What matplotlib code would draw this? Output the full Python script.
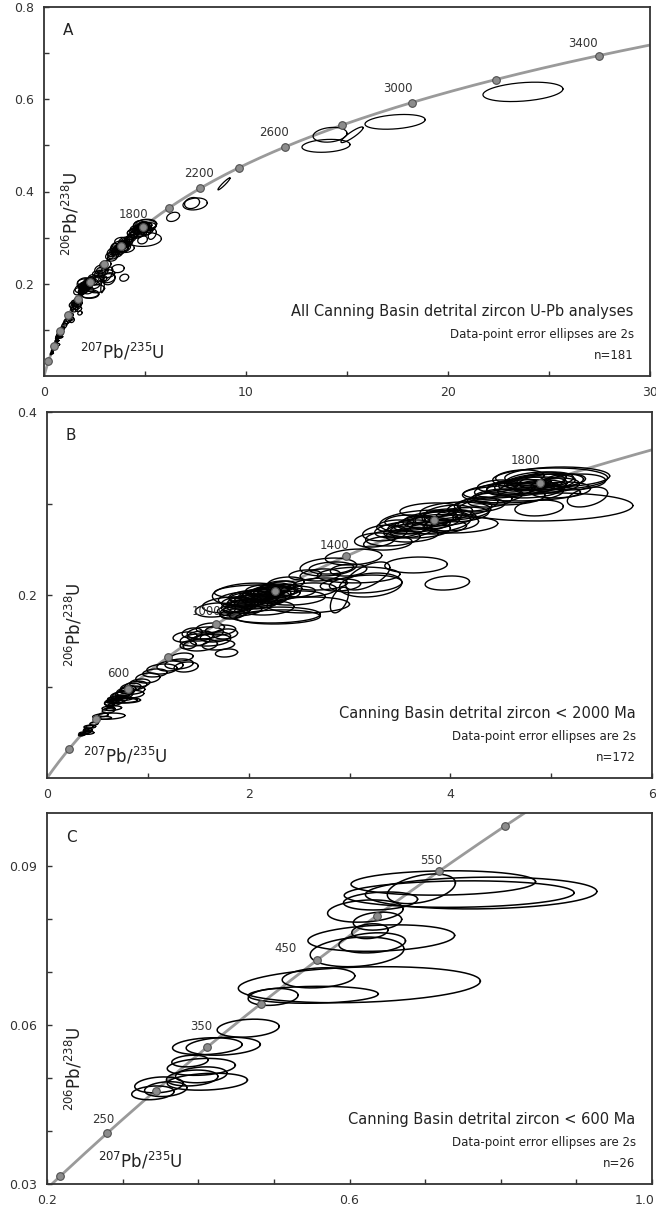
import numpy as np
import matplotlib.pyplot as plt
from matplotlib.transforms import ScaledTranslation

# decay constants (per year)
L238 = 1.55125e-10
L235 = 9.8485e-10

# analyses: 207Pb/235U, 206Pb/238U, 2s error x, 2s error y, rho
grains_lt600 = [
    (0.340, 0.0472, 0.028, 0.0013, 0.2), (0.348, 0.0487, 0.032, 0.0015, 0.2),
    (0.357, 0.0479, 0.028, 0.0014, 0.2), (0.392, 0.0500, 0.034, 0.0015, 0.2),
    (0.412, 0.0493, 0.053, 0.0016, 0.2), (0.404, 0.0521, 0.045, 0.0016, 0.2),
    (0.389, 0.0532, 0.024, 0.0011, 0.2), (0.404, 0.0506, 0.034, 0.0015, 0.2),
    (0.412, 0.0560, 0.046, 0.0016, 0.2), (0.433, 0.0560, 0.049, 0.0017, 0.2),
    (0.466, 0.0594, 0.041, 0.0017, 0.2), (0.613, 0.0676, 0.160, 0.0034, 0.2),
    (0.499, 0.0653, 0.033, 0.0016, 0.2), (0.552, 0.0657, 0.086, 0.0016, 0.1),
    (0.559, 0.0689, 0.048, 0.0019, 0.2), (0.610, 0.0738, 0.062, 0.0028, 0.2),
    (0.642, 0.0764, 0.097, 0.0025, 0.2), (0.630, 0.0755, 0.044, 0.0019, 0.2),
    (0.627, 0.0777, 0.024, 0.0014, 0.2), (0.637, 0.0796, 0.032, 0.0017, 0.2),
    (0.621, 0.0815, 0.050, 0.0021, 0.2), (0.641, 0.0834, 0.049, 0.0017, 0.2),
    (0.724, 0.0868, 0.122, 0.0023, 0.1), (0.695, 0.0857, 0.045, 0.0028, 0.4),
    (0.745, 0.0847, 0.152, 0.0025, 0.1), (0.774, 0.0849, 0.153, 0.0030, 0.1),
]

grains_600_850 = [
    (0.80, 0.0965, 0.08, 0.0042, 0.3), (0.78, 0.0945, 0.09, 0.0045, 0.3),
    (0.83, 0.0990, 0.10, 0.0046, 0.3), (0.76, 0.0920, 0.08, 0.0040, 0.3),
    (0.85, 0.0960, 0.12, 0.0045, 0.2), (0.72, 0.0900, 0.09, 0.0042, 0.3),
    (0.82, 0.0915, 0.14, 0.0044, 0.2), (0.70, 0.0860, 0.10, 0.0045, 0.3),
    (0.88, 0.1010, 0.11, 0.0048, 0.3), (0.75, 0.0905, 0.10, 0.0044, 0.3),
    (0.66, 0.0830, 0.09, 0.0042, 0.3),
    (1.00, 0.1093, 0.12, 0.0055, 0.2), (1.14, 0.1191, 0.15, 0.0055, 0.2),
    (1.22, 0.1224, 0.13, 0.0055, 0.2), (1.31, 0.1246, 0.14, 0.0055, 0.2),
    (1.34, 0.1322, 0.11, 0.0044, 0.2), (1.38, 0.1213, 0.12, 0.0055, 0.2),
    (0.92, 0.1038, 0.10, 0.0044, 0.2), (1.07, 0.1148, 0.12, 0.0044, 0.2),
]

grains_900_1000 = [
    (1.47, 0.1508, 0.15, 0.0066, 0.2), (1.52, 0.1552, 0.13, 0.0055, 0.2),
    (1.57, 0.1585, 0.18, 0.0066, 0.2), (1.62, 0.1508, 0.20, 0.0066, 0.2),
    (1.67, 0.1541, 0.15, 0.0055, 0.2), (1.72, 0.1617, 0.15, 0.0055, 0.2),
    (1.62, 0.1639, 0.14, 0.0055, 0.2), (1.52, 0.1454, 0.17, 0.0066, 0.2),
    (1.70, 0.1454, 0.16, 0.0055, 0.2), (1.77, 0.1574, 0.12, 0.0055, 0.2),
    (1.44, 0.1585, 0.10, 0.0055, 0.2), (1.40, 0.1454, 0.08, 0.0044, 0.2),
    (1.78, 0.1366, 0.11, 0.0044, 0.2), (1.37, 0.1541, 0.12, 0.0055, 0.2),
]

grains_1000_1300 = [
    (2.07, 0.2033, 0.41, 0.0077, 0.1), (2.03, 0.2000, 0.39, 0.0130, 0.1),
    (1.80, 0.1891, 0.26, 0.0087, 0.2), (2.26, 0.1781, 0.45, 0.0087, 0.1),
    (2.29, 0.1760, 0.42, 0.0077, 0.1), (2.59, 0.1891, 0.41, 0.0087, 0.1),
    (2.71, 0.2120, 0.27, 0.0066, 0.2), (2.59, 0.2055, 0.28, 0.0077, 0.2),
    (1.67, 0.1836, 0.20, 0.0077, 0.2), (1.91, 0.1836, 0.22, 0.0066, 0.2),
    (1.86, 0.1814, 0.15, 0.0066, 0.3), (1.91, 0.1880, 0.18, 0.0066, 0.3),
    (1.96, 0.1902, 0.16, 0.0055, 0.3), (1.99, 0.1934, 0.20, 0.0066, 0.3),
    (2.03, 0.1945, 0.18, 0.0066, 0.3), (2.07, 0.1967, 0.15, 0.0055, 0.3),
    (2.11, 0.1989, 0.20, 0.0066, 0.3), (2.14, 0.2011, 0.17, 0.0066, 0.3),
    (2.17, 0.2033, 0.15, 0.0055, 0.3), (2.21, 0.2044, 0.19, 0.0066, 0.3),
    (2.25, 0.2066, 0.16, 0.0066, 0.3), (2.29, 0.2087, 0.18, 0.0066, 0.3),
    (2.33, 0.2098, 0.14, 0.0055, 0.3), (2.01, 0.1880, 0.22, 0.0077, 0.2),
    (2.09, 0.1913, 0.20, 0.0066, 0.2), (2.16, 0.1945, 0.21, 0.0066, 0.2),
    (2.23, 0.1978, 0.18, 0.0066, 0.2), (1.95, 0.1967, 0.14, 0.0055, 0.2),
    (2.13, 0.2055, 0.16, 0.0055, 0.2), (2.37, 0.2131, 0.18, 0.0066, 0.2),
    (1.84, 0.1792, 0.12, 0.0055, 0.2), (1.89, 0.1847, 0.14, 0.0055, 0.2),
    (2.27, 0.2011, 0.24, 0.0077, 0.2), (2.41, 0.2033, 0.25, 0.0066, 0.2),
    (2.46, 0.1967, 0.30, 0.0077, 0.2), (2.19, 0.1858, 0.26, 0.0077, 0.2),
    (2.05, 0.1990, 0.25, 0.0070, 0.3), (2.12, 0.2000, 0.22, 0.0066, 0.3),
    (2.20, 0.2020, 0.26, 0.0070, 0.3), (1.93, 0.1925, 0.20, 0.0066, 0.3),
    (2.31, 0.2050, 0.22, 0.0066, 0.3), (2.00, 0.1960, 0.30, 0.0080, 0.2),
]

grains_1300_1500 = [
    (2.79, 0.2306, 0.28, 0.0098, 0.2), (2.82, 0.2295, 0.22, 0.0066, 0.2),
    (3.04, 0.2415, 0.28, 0.0087, 0.2), (3.09, 0.2219, 0.41, 0.0087, 0.1),
    (3.21, 0.2109, 0.31, 0.0131, 0.2), (3.18, 0.2208, 0.22, 0.0153, 0.6),
    (3.66, 0.2328, 0.31, 0.0087, 0.1), (3.97, 0.2131, 0.22, 0.0077, 0.2),
    (3.16, 0.2120, 0.36, 0.0098, 0.2), (2.90, 0.1945, 0.09, 0.0140, 0.5),
    (2.91, 0.2109, 0.20, 0.0066, 0.2), (2.99, 0.2273, 0.18, 0.0066, 0.2),
    (2.71, 0.2219, 0.20, 0.0066, 0.2), (2.56, 0.2219, 0.16, 0.0055, 0.2),
]

grains_1500_1700 = [
    (3.35, 0.2678, 0.22, 0.0087, 0.2), (3.43, 0.2623, 0.27, 0.0087, 0.2),
    (4.05, 0.2918, 0.35, 0.0098, 0.2), (3.75, 0.2798, 0.45, 0.0130, 0.2),
    (4.10, 0.2765, 0.37, 0.0087, 0.2), (3.50, 0.2710, 0.25, 0.0087, 0.3),
    (3.60, 0.2743, 0.22, 0.0077, 0.3), (3.68, 0.2787, 0.20, 0.0077, 0.3),
    (3.78, 0.2820, 0.25, 0.0087, 0.3), (3.85, 0.2842, 0.22, 0.0077, 0.3),
    (3.92, 0.2863, 0.20, 0.0077, 0.3), (3.98, 0.2896, 0.24, 0.0087, 0.3),
    (3.70, 0.2710, 0.30, 0.0087, 0.2), (3.88, 0.2743, 0.28, 0.0077, 0.2),
    (3.55, 0.2809, 0.20, 0.0066, 0.2), (4.19, 0.2951, 0.22, 0.0077, 0.3),
    (4.27, 0.2995, 0.20, 0.0077, 0.3), (3.80, 0.2929, 0.30, 0.0077, 0.2),
    (3.45, 0.2754, 0.18, 0.0066, 0.2), (3.25, 0.2601, 0.20, 0.0077, 0.2),
    (4.02, 0.2787, 0.26, 0.0087, 0.2), (3.38, 0.2568, 0.24, 0.0077, 0.2),
    (3.62, 0.2656, 0.26, 0.0077, 0.2),
    (3.72, 0.2770, 0.28, 0.0080, 0.3), (3.83, 0.2800, 0.26, 0.0080, 0.3),
    (3.95, 0.2840, 0.30, 0.0085, 0.3), (3.58, 0.2700, 0.24, 0.0077, 0.3),
    (4.12, 0.2880, 0.26, 0.0080, 0.3),
]

grains_1700_2000 = [
    (5.06, 0.3290, 0.52, 0.0109, 0.1), (4.71, 0.3115, 0.58, 0.0087, 0.1),
    (5.36, 0.3071, 0.20, 0.0109, 0.4), (4.95, 0.2962, 0.86, 0.0153, 0.1),
    (4.99, 0.3268, 0.57, 0.0120, 0.1), (4.88, 0.2951, 0.24, 0.0087, 0.2),
    (4.62, 0.3115, 0.50, 0.0109, 0.2), (4.47, 0.3082, 0.25, 0.0077, 0.3),
    (4.54, 0.3148, 0.30, 0.0087, 0.3), (4.64, 0.3180, 0.28, 0.0087, 0.3),
    (4.74, 0.3213, 0.26, 0.0077, 0.3), (4.84, 0.3235, 0.30, 0.0087, 0.3),
    (4.94, 0.3257, 0.28, 0.0087, 0.3), (4.79, 0.3148, 0.32, 0.0087, 0.2),
    (4.89, 0.3180, 0.26, 0.0077, 0.2), (4.69, 0.3290, 0.24, 0.0077, 0.2),
    (5.04, 0.3202, 0.24, 0.0077, 0.2), (5.14, 0.3257, 0.20, 0.0066, 0.2),
    (4.59, 0.3071, 0.35, 0.0087, 0.2), (4.39, 0.3038, 0.22, 0.0077, 0.2),
    (5.09, 0.3148, 0.30, 0.0087, 0.2), (5.24, 0.3235, 0.30, 0.0087, 0.2),
    (4.47, 0.3191, 0.20, 0.0066, 0.2), (4.29, 0.2984, 0.25, 0.0077, 0.2),
    (4.80, 0.3200, 0.36, 0.0090, 0.3), (4.90, 0.3230, 0.34, 0.0090, 0.3),
    (5.00, 0.3240, 0.32, 0.0087, 0.3), (4.70, 0.3170, 0.34, 0.0090, 0.3),
    (4.85, 0.3260, 0.30, 0.0085, 0.3),
]

grains_gt2000 = [
    (6.39, 0.345, 0.32, 0.010, 0.3), (7.48, 0.373, 0.60, 0.013, 0.2),
    (7.33, 0.375, 0.37, 0.012, 0.2), (8.91, 0.4165, 0.30, 0.013, 0.95),
    (13.96, 0.499, 1.19, 0.014, 0.2), (14.16, 0.523, 0.84, 0.016, 0.2),
    (15.25, 0.523, 0.55, 0.017, 0.9), (17.38, 0.551, 1.49, 0.016, 0.3),
    (23.71, 0.616, 1.98, 0.021, 0.3),
]

# concordia age markers (Ma) and labelled ones
ages_A = [200, 400, 600, 800, 1000, 1200, 1400, 1600, 1800, 2000, 2200, 2400,
          2600, 2800, 3000, 3200, 3400]
labels_A = [1800, 2200, 2600, 3000, 3400]
ages_B = [200, 400, 600, 800, 1000, 1200, 1400, 1600, 1800]
labels_B = [600, 1000, 1400, 1800]
ages_C = [200, 250, 300, 350, 400, 450, 500, 550, 600]
labels_C = [250, 350, 450, 550]

lt2000 = (grains_lt600 + grains_600_850 + grains_900_1000 + grains_1000_1300
          + grains_1300_1500 + grains_1500_1700 + grains_1700_2000)
all_grains = lt2000 + grains_gt2000


def concordia(age_ma):
    t = np.asarray(age_ma, dtype=float) * 1e6
    return np.exp(L235 * t) - 1, np.exp(L238 * t) - 1


def draw_ellipse(ax, g, lw):
    x, y, ex, ey, rho = g
    t = np.linspace(0, 2 * np.pi, 150)
    xs = x + ex * np.cos(t)
    ys = y + ey * (rho * np.cos(t) + np.sqrt(1 - rho ** 2) * np.sin(t))
    ax.plot(xs, ys, color='black', lw=lw, zorder=3)


def panel(ax, grains, ages, labels, offsets, xlim, ylim, xmaj, xmin, ymaj, ymin,
          xfmt, yfmt, letter, title, n_text, ell_lw, ylab_y, xlab_pos):
    tt = np.linspace(0, 4000, 3000)
    cx, cy = concordia(tt)
    ax.plot(cx, cy, color='#9a9a9a', lw=2.0, zorder=2)
    for g in grains:
        draw_ellipse(ax, g, ell_lw)
    mx, my = concordia(ages)
    ax.plot(mx, my, 'o', ms=5.5, mfc='#8c8c8c', mec='#505050', mew=0.8, zorder=5,
            ls='none')
    for lab in labels:
        lx, ly = concordia([lab])
        dx, dy = offsets[lab]
        ax.annotate(str(lab), (lx[0], ly[0]), xytext=(dx, dy),
                    textcoords='offset pixels', ha='center', va='center',
                    fontsize=8.5, color='#333333', zorder=6)
    ax.set_xlim(*xlim)
    ax.set_ylim(*ylim)
    ax.set_xticks(xmaj)
    ax.set_xticks(xmin, minor=True)
    ax.set_yticks(ymaj)
    ax.set_yticks(ymin, minor=True)
    ax.set_xticklabels([xfmt.format(v) for v in xmaj])
    ax.set_yticklabels([yfmt.format(v) for v in ymaj])
    ax.tick_params(which='both', direction='in', length=3.5, width=1.0,
                   color='#333333', labelsize=9, labelcolor='#333333', pad=7)
    for s in ax.spines.values():
        s.set_color('#333333')
        s.set_linewidth(1.3)
    ax.text(0.04, 0.935, letter, transform=ax.transAxes, fontsize=11,
            color='#222222', ha='center', va='center')
    ax.text(0.045, ylab_y, r'$^{206}$Pb/$^{238}$U', transform=ax.transAxes,
            rotation=90, fontsize=12, color='#222222', ha='center', va='center')
    ax.text(xlab_pos[0], xlab_pos[1], r'$^{207}$Pb/$^{235}$U',
            transform=ax.transAxes, fontsize=12, color='#222222',
            ha='center', va='center')
    ax.text(0.973, 0.175, title, transform=ax.transAxes, fontsize=10.5,
            color='#222222', ha='right', va='center')
    ax.text(0.973, 0.113, 'Data-point error ellipses are 2s', transform=ax.transAxes,
            fontsize=8.5, color='#222222', ha='right', va='center')
    ax.text(0.973, 0.056, n_text, transform=ax.transAxes, fontsize=8.5,
            color='#222222', ha='right', va='center')


plt.rcParams['mathtext.default'] = 'regular'
fig = plt.figure(figsize=(6.56, 12.07), dpi=100)
axA = fig.add_axes([44 / 656, 1 - 376 / 1207, 606 / 656, 369 / 1207])
axB = fig.add_axes([47 / 656, 1 - 778 / 1207, 605 / 656, 366 / 1207])
axC = fig.add_axes([47 / 656, 1 - 1184 / 1207, 605 / 656, 371 / 1207])

panel(axA, all_grains, ages_A, labels_A,
      {1800: (-9, 13), 2200: (-1, 15), 2600: (-11, 14), 3000: (-14, 14), 3400: (-16, 12)},
      (0, 30), (0, 0.8), [0, 10, 20, 30], [5, 15, 25],
      [0.2, 0.4, 0.6, 0.8], [0.1, 0.3, 0.5, 0.7], '{:g}', '{:g}',
      'A', 'All Canning Basin detrital zircon U-Pb analyses', 'n=181', 0.9,
      0.44, (0.13, 0.065))
panel(axB, lt2000, ages_B, labels_B,
      {600: (-10, 15), 1000: (-10, 13), 1400: (-12, 11), 1800: (-14, 23)},
      (0, 6), (0, 0.4), [0, 2, 4, 6], [1, 3, 5],
      [0.2, 0.4], [0.1, 0.3], '{:g}', '{:g}',
      'B', 'Canning Basin detrital zircon < 2000 Ma', 'n=172', 1.0,
      0.42, (0.13, 0.06))
panel(axC, grains_lt600, ages_C, labels_C,
      {250: (-4, 14), 350: (-6, 21), 450: (-32, 11), 550: (-8, 10)},
      (0.2, 1.0), (0.03, 0.10), [0.2, 0.6, 1.0], [0.3, 0.4, 0.5, 0.7, 0.8, 0.9],
      [0.03, 0.06, 0.09], [0.04, 0.05, 0.07, 0.08], '{:.1f}', '{:.2f}',
      'C', 'Canning Basin detrital zircon < 600 Ma', 'n=26', 1.1,
      0.31, (0.154, 0.062))

# keep the last x label of panel C inside the figure
last = axC.get_xticklabels()[-1]
last.set_transform(last.get_transform() + ScaledTranslation(-0.07, 0, fig.dpi_scale_trans))

fig.savefig('out.png', dpi=100)
